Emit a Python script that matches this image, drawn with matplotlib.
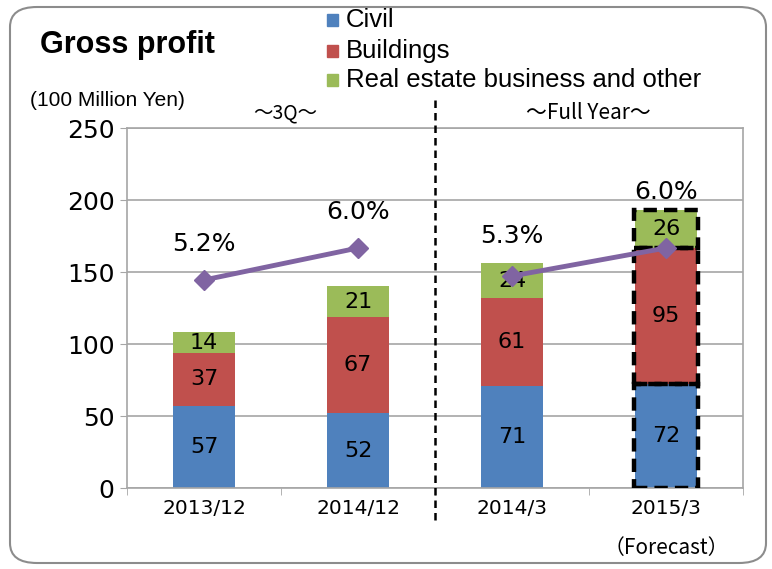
import matplotlib
matplotlib.use("Agg")
import matplotlib.pyplot as plt
from matplotlib.patches import FancyBboxPatch

# data
periods = ["2013/12", "2014/12", "2014/3", "2015/3"]
civil = [57, 52, 71, 72]
buildings = [37, 67, 61, 95]
real_estate = [14, 21, 24, 26]
margin = [5.2, 6.0, 5.3, 6.0]
margin_labels = ["5.2%", "6.0%", "5.3%", "6.0%"]
series_names = ["Civil", "Buildings", "Real estate business and other"]

colors = ["#4F81BD", "#C0504D", "#9BBB59"]
purple = "#8064A2"
grid_gray = "#A6A6A6"

fig = plt.figure(figsize=(7.72, 5.69), dpi=100)

# rounded frame round the whole chart
frame = FancyBboxPatch((10 / 772, 6 / 569), 756 / 772, 556 / 569,
                       boxstyle="round,pad=0,rounding_size=0.035",
                       transform=fig.transFigure, fill=False,
                       edgecolor="#8C8C8C", linewidth=1.5)
fig.patches.append(frame)

ax = fig.add_axes([127 / 772, 1 - 488 / 569, 616 / 772, 360 / 569])

x = list(range(len(periods)))
bw = 0.4
bottoms2 = civil
bottoms3 = [c + b for c, b in zip(civil, buildings)]

ax.bar(x, civil, bw, color=colors[0], zorder=2)
ax.bar(x, buildings, bw, bottom=bottoms2, color=colors[1], zorder=2)
ax.bar(x, real_estate, bw, bottom=bottoms3, color=colors[2], zorder=2)

# forecast bar: dashed outline round each segment
last = len(periods) - 1
for h, b in [(civil[last], 0), (buildings[last], bottoms2[last]), (real_estate[last], bottoms3[last])]:
    ax.bar(last, h, bw + 0.02, bottom=b, facecolor="none", edgecolor="black",
           linewidth=3.2, linestyle=(0, (3, 1.6)), zorder=4)

# segment labels
for i in x:
    ax.text(i, civil[i] / 2, str(civil[i]), ha="center", va="center", fontsize=16, zorder=5)
    ax.text(i, bottoms2[i] + buildings[i] / 2, str(buildings[i]), ha="center", va="center", fontsize=16, zorder=5)
    ax.text(i, bottoms3[i] + real_estate[i] / 2, str(real_estate[i]), ha="center", va="center", fontsize=16, zorder=5)

ax.set_xlim(-0.5, len(periods) - 0.5)
ax.set_ylim(0, 250)
ax.set_yticks([0, 50, 100, 150, 200, 250])
ax.tick_params(axis="y", labelsize=18, length=5, color=grid_gray, pad=4)
ax.set_xticks(x)
ax.set_xticklabels(periods, fontsize=14.5)
ax.tick_params(axis="x", length=0, pad=8)
ax.set_xticks([-0.5, 0.5, 1.5, 2.5, 3.5], minor=True)
ax.tick_params(axis="x", which="minor", length=5, color=grid_gray)
ax.grid(axis="y", color=grid_gray, linewidth=1.2, zorder=0)
ax.set_axisbelow(True)
for s in ax.spines.values():
    s.set_color(grid_gray)
    s.set_linewidth(1.2)

# margin line on a hidden second scale, split at the 3Q / full year divider
ax2 = ax.twinx()
ax2.set_ylim(0, 9)
ax2.plot(x[:2], margin[:2], color=purple, linewidth=3.5, marker="D", markersize=10, zorder=3)
ax2.plot(x[2:], margin[2:], color=purple, linewidth=3.5, marker="D", markersize=10, zorder=3)
ax2.set_yticks([])
for s in ax2.spines.values():
    s.set_visible(False)
offsets = [36, 36, 40, 56]
for i in x:
    ax2.annotate(margin_labels[i], (i, margin[i]), xytext=(0, offsets[i]),
                 textcoords="offset pixels", ha="center", va="center", fontsize=18)

# divider between 3Q and full year
ax.plot([1.5, 1.5], [1.078, -0.097], transform=ax.get_xaxis_transform(),
        color="black", linewidth=1.8, linestyle=(0, (3, 2)), clip_on=False, zorder=6)

cjk = ["Noto Sans CJK JP", "DejaVu Sans"]
fig.text(285 / 772, 1 - 113 / 569, "～3Q～", ha="center", va="center", fontsize=14, family=cjk)
fig.text(588 / 772, 1 - 113 / 569, "～Full Year～", ha="center", va="center", fontsize=15, family=cjk)
fig.text(666 / 772, 1 - 548 / 569, "（Forecast）", ha="center", va="center", fontsize=15, family=cjk)
fig.text(30 / 772, 1 - 101 / 569, "(100 Million Yen)", ha="left", va="center", fontsize=15,
         family="Liberation Sans")

fig.text(40 / 772, 1 - 45 / 569, "Gross profit", ha="left", va="center", fontsize=22,
         fontweight="bold", family="Liberation Sans")

# legend drawn by hand as in the reference
leg_y = [20, 51, 80]
for name, c, yy in zip(series_names, colors, leg_y):
    fig.patches.append(plt.Rectangle((327 / 772, 1 - (yy + 6) / 569), 11 / 772, 12 / 569,
                                     transform=fig.transFigure, color=c))
    fig.text(346 / 772, 1 - yy / 569, name, ha="left", va="center", fontsize=18.5,
             family="Liberation Sans")

fig.savefig("out.png", dpi=100)
